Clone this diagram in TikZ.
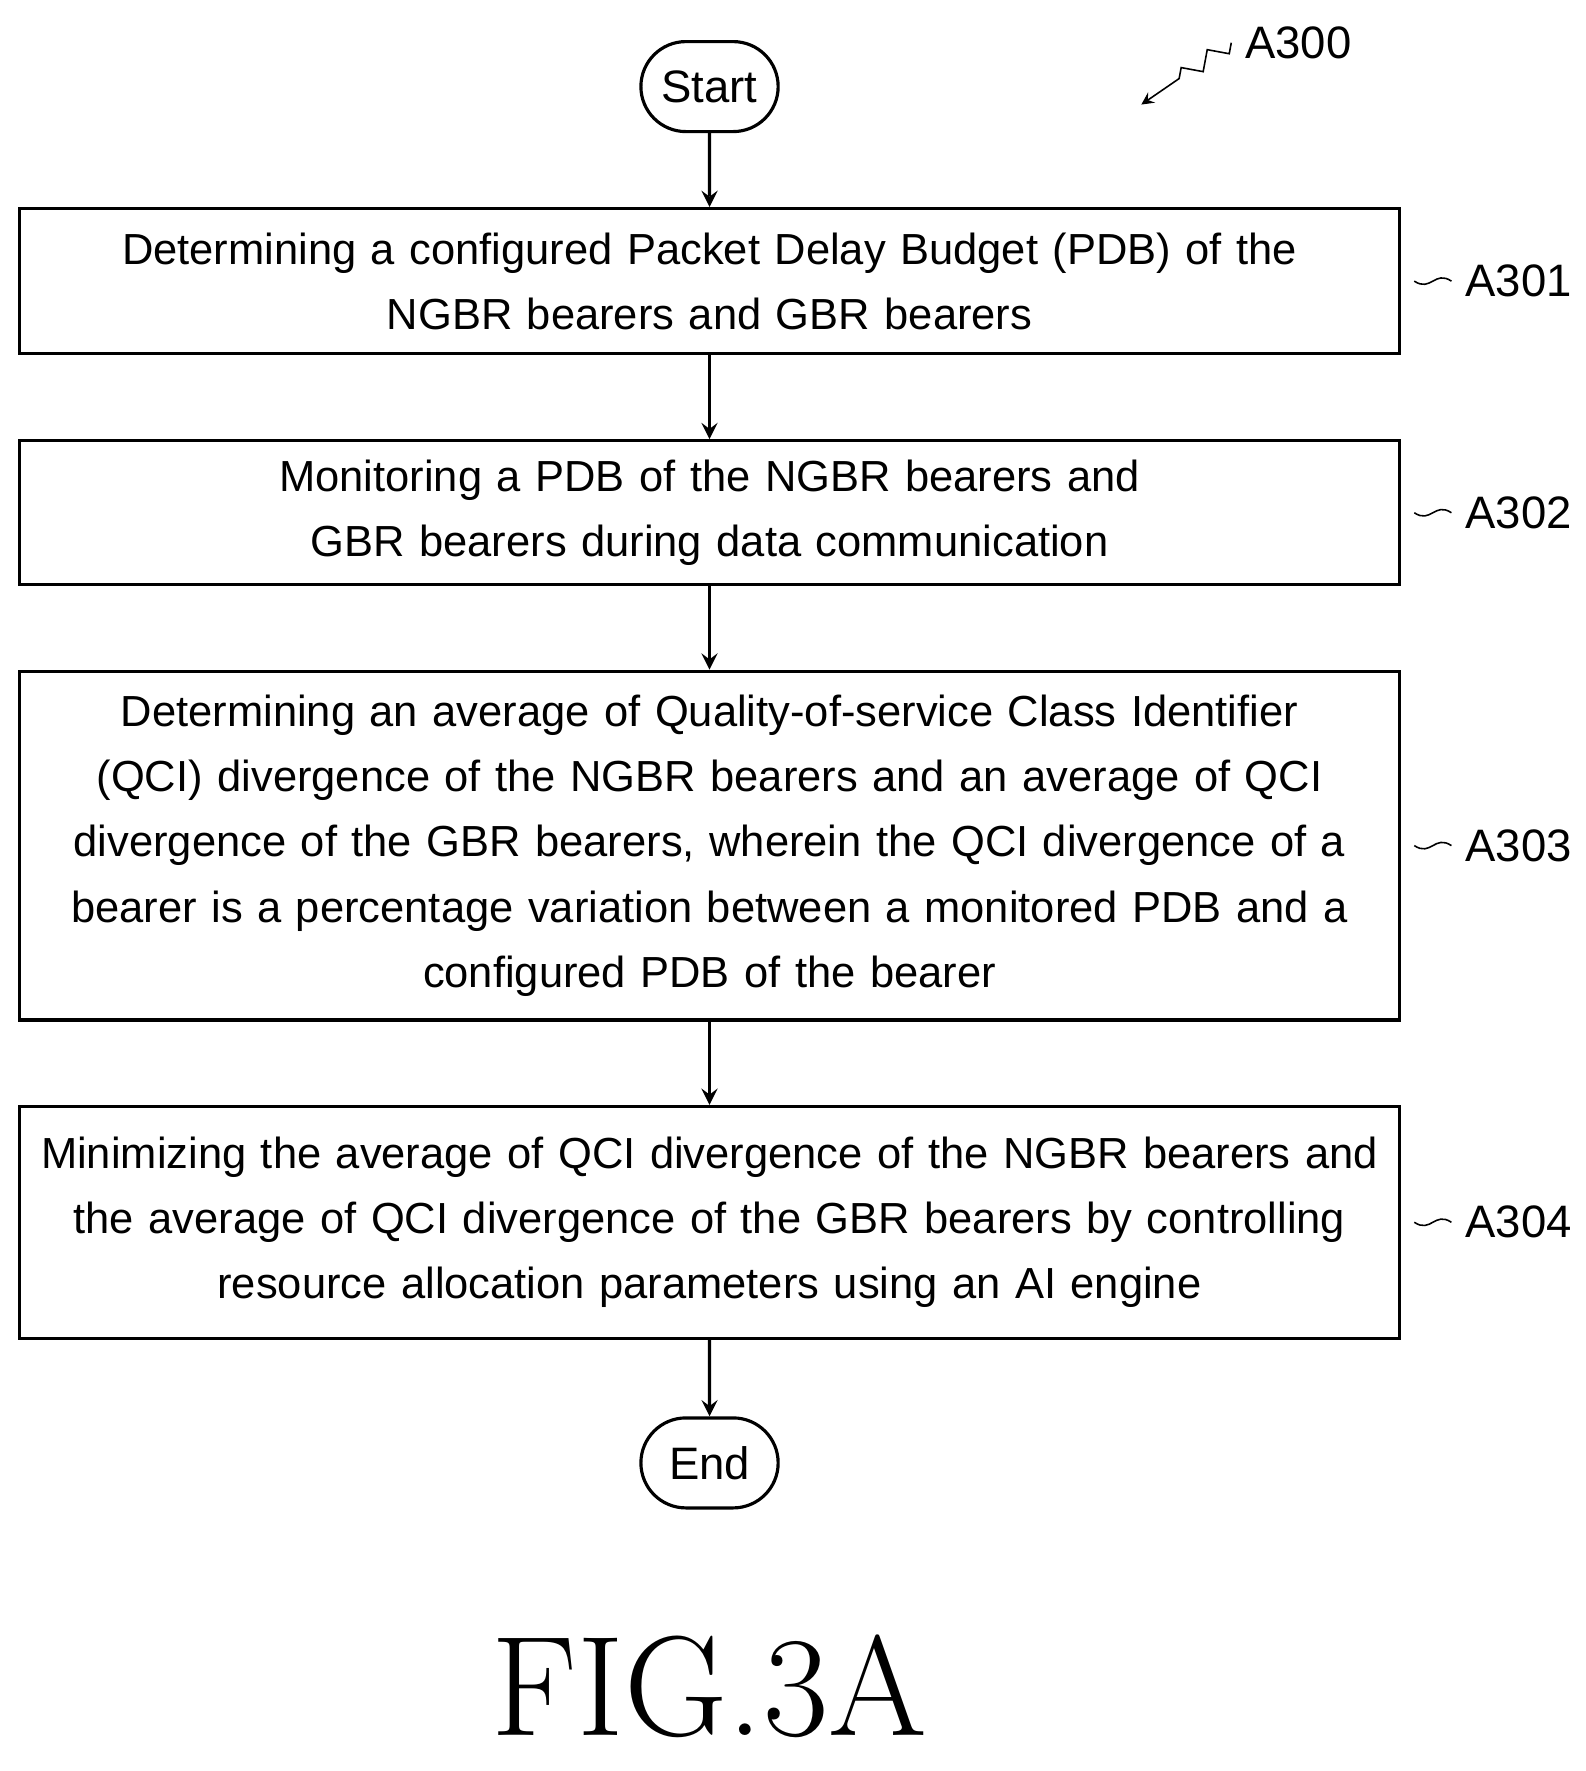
\documentclass[tikz,border=0pt]{standalone}
\usepackage{fontspec}
\setmainfont{Liberation Sans}
\usetikzlibrary{shapes,arrows,positioning,decorations.pathmorphing}
\begin{document}
\begin{tikzpicture}[x=0.01cm,y=-0.01cm,
  proc/.style={draw, thick, text width=12.0cm, inner xsep=0.13cm, align=center, font=\fontsize{11}{16.5}\selectfont},
  term/.style={draw, thick, rounded rectangle, minimum width=2.22cm, minimum height=0.8cm, inner xsep=0.5cm, font=\fontsize{11.5}{16.5}\selectfont},
  lbl/.style={font=\fontsize{11.5}{15}\selectfont, anchor=west},
  flow/.style={->, >=stealth, thick}]
\useasboundingbox (0,0) rectangle (1410,1575);
% Start and End
\node[term] (start) at (631,77) {Start};
\node[term] (end) at (631,1301) {End};
% Steps
\node[proc, minimum height=1.29cm] (s1) at (631,250) {Determining a configured Packet Delay Budget (PDB) of the\\NGBR bearers and GBR bearers};
\node[proc, minimum height=1.28cm] (s2) at (631,456) {Monitoring a PDB of the NGBR bearers and\\GBR bearers during data communication};
\node[proc, minimum height=3.1cm] (s3) at (631,752) {Determining an average of Quality-of-service Class Identifier\\(QCI) divergence of the NGBR bearers and an average of QCI\\divergence of the GBR bearers, wherein the QCI divergence of a\\bearer is a percentage variation between a monitored PDB and a\\configured PDB of the bearer};
\node[proc, minimum height=2.06cm] (s4) at (631,1087) {Minimizing the average of QCI divergence of the NGBR bearers and\\the average of QCI divergence of the GBR bearers by controlling\\resource allocation parameters using an AI engine};
% Arrows
\draw[flow] (start) -- (s1);
\draw[flow] (s1) -- (s2);
\draw[flow] (s2) -- (s3);
\draw[flow] (s3) -- (s4);
\draw[flow] (s4) -- (end);
% Step labels
\foreach \n/\t in {s1/A301, s2/A302, s3/A303, s4/A304}{
  \node[lbl] (\n l) at ([xshift=0.45cm]\n.east) {\t};
  \draw (\n l.west) .. controls +(-15,-10) and +(15,10) .. ([xshift=0.12cm]\n.east);
}
% Figure label
\node[lbl] (fig) at (1095,38) {A300};
\coordinate (figend) at (1015,93);
\draw[->, >=stealth, decorate, decoration={zigzag, segment length=8, amplitude=2, post length=8}] (fig.west) -- (figend);
\node[font=\fontfamily{lmr}\fontsize{36}{36}\selectfont] (title) at (631,1500) {FIG.3A};
\end{tikzpicture}
\end{document}
